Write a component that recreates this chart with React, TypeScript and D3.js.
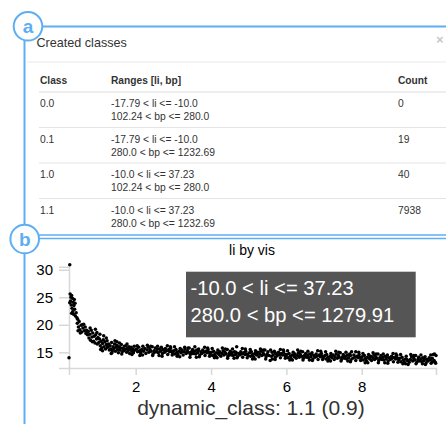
import React, {useEffect, useRef} from "react";
import * as d3 from "d3";

// table in panel a
const classIds = ["0.0", "0.1", "1.0", "1.1"];
const liRanges = ["-17.79 < li <= -10.0", "-17.79 < li <= -10.0", "-10.0 < li <= 37.23", "-10.0 < li <= 37.23"];
const bpRanges = ["102.24 < bp <= 280.0", "280.0 < bp <= 1232.69", "102.24 < bp <= 280.0", "280.0 < bp <= 1232.69"];
const counts = [0, 19, 40, 7938];

// scatter in panel b: [vis, li]
const outlierPoints: [number, number][] = [[0.25, 30.9], [0.23, 14.0]];

const headPoints: [number, number][] = [
	[0.26, 25.6], [0.28, 25.0], [0.27, 24.3], [0.3, 25.3], [0.32, 24.8], [0.29, 23.6], [0.31, 23.0], [0.34, 24.1],
	[0.33, 22.4], [0.36, 23.5], [0.35, 21.9], [0.38, 22.8], [0.4, 21.6], [0.37, 24.6], [0.42, 22.2], [0.44, 21.3],
	[0.25, 24.0], [0.3, 22.1], [0.39, 23.9], [0.46, 21.0],
	[0.45, 20.3], [0.48, 19.6], [0.5, 20.6], [0.52, 19.1], [0.55, 19.9], [0.57, 18.7], [0.6, 19.4], [0.62, 20.1],
	[0.64, 18.9], [0.66, 19.6], [0.68, 18.4], [0.7, 19.0], [0.72, 18.2], [0.53, 18.5], [0.58, 20.0], [0.47, 18.9],
	[0.74, 18.8], [0.76, 17.6], [0.78, 18.3], [0.8, 17.2], [0.82, 19.0], [0.84, 17.8], [0.86, 18.5], [0.88, 17.0],
	[0.9, 17.9], [0.92, 16.7], [0.94, 18.2], [0.96, 17.4], [0.98, 16.5], [1.0, 17.7], [0.85, 16.9], [0.93, 19.2],
	[0.79, 19.4], [0.97, 18.6],
	[1.02, 16.8], [1.04, 17.4], [1.06, 16.2], [1.08, 17.0], [1.1, 15.8], [1.12, 16.6], [1.14, 17.3], [1.16, 16.0],
	[1.18, 16.9], [1.2, 15.6], [1.22, 16.4], [1.24, 17.1], [1.26, 15.9], [1.28, 16.5], [1.3, 15.4], [1.15, 18.0],
	[1.25, 16.0], [1.07, 15.5],
	[1.32, 16.2], [1.34, 15.6], [1.36, 16.8], [1.38, 15.3], [1.4, 16.0], [1.42, 15.7], [1.44, 16.5], [1.46, 15.2],
	[1.48, 15.9], [1.5, 16.3], [1.52, 15.5], [1.54, 14.9], [1.56, 16.0], [1.58, 15.4], [1.6, 15.8], [1.62, 16.4],
	[1.64, 15.1], [1.66, 15.7], [1.68, 15.3], [1.7, 16.1], [1.45, 17.1], [1.37, 14.9], [1.57, 16.7],
	[1.72, 15.5], [1.74, 16.2], [1.76, 15.0], [1.78, 15.7], [1.8, 15.3], [1.82, 16.0], [1.84, 14.8], [1.86, 15.5],
	[1.88, 15.9], [1.9, 15.2], [1.92, 15.6], [1.94, 14.9], [1.96, 16.1], [1.98, 15.4], [1.85, 15.6], [1.95, 15.3],
	[1.22, 17.6], [1.35, 14.8], [1.5, 16.9], [1.63, 14.7], [1.77, 16.5], [1.9, 14.6], [1.05, 18.3], [1.12, 15.3],
];

const tailPoints: [number, number][] = [
	[2.02, 15.6], [2.05, 15.1], [2.08, 15.9], [2.1, 15.3], [2.13, 14.9], [2.16, 15.5], [2.19, 16.1], [2.21, 15.2],
	[2.24, 15.7], [2.27, 14.8], [2.3, 15.4], [2.33, 15.9], [2.35, 15.0], [2.38, 15.5], [2.41, 15.2], [2.44, 16.0],
	[2.46, 14.7], [2.49, 15.3], [2.52, 15.8], [2.55, 15.1], [2.57, 15.5], [2.6, 14.9], [2.63, 15.6], [2.66, 15.2],
	[2.68, 15.9], [2.71, 14.8], [2.74, 15.4], [2.77, 15.0], [2.79, 15.7], [2.82, 15.3], [2.85, 14.6], [2.88, 15.5],
	[2.9, 15.1], [2.93, 15.8], [2.96, 15.2], [2.98, 14.9], [2.15, 15.3], [2.5, 15.0], [2.72, 15.5], [2.91, 15.4],
	[3.01, 15.3], [3.04, 14.7], [3.07, 15.5], [3.09, 15.0], [3.12, 14.6], [3.15, 15.2], [3.18, 15.7], [3.2, 14.9],
	[3.23, 15.4], [3.26, 14.5], [3.29, 15.1], [3.31, 15.6], [3.34, 14.8], [3.37, 15.3], [3.4, 15.0], [3.42, 15.8],
	[3.45, 14.6], [3.48, 15.1], [3.51, 15.5], [3.53, 14.8], [3.56, 15.2], [3.59, 14.7], [3.62, 15.4], [3.64, 14.9],
	[3.67, 15.6], [3.7, 14.5], [3.73, 15.1], [3.75, 14.8], [3.78, 15.4], [3.81, 15.0], [3.84, 14.4], [3.86, 15.2],
	[3.89, 14.9], [3.92, 15.5], [3.95, 15.0], [3.97, 14.7], [3.22, 15.1], [3.5, 14.8], [3.66, 15.3], [3.88, 15.1],
	[4.01, 15.0], [4.04, 14.4], [4.07, 15.2], [4.1, 14.7], [4.12, 14.3], [4.15, 14.9], [4.18, 15.4], [4.21, 14.6],
	[4.23, 15.1], [4.26, 14.3], [4.29, 14.8], [4.32, 15.3], [4.34, 14.5], [4.37, 15.0], [4.4, 14.7], [4.43, 15.5],
	[4.45, 14.3], [4.48, 14.8], [4.51, 15.2], [4.54, 14.5], [4.56, 14.9], [4.59, 14.4], [4.62, 15.1], [4.65, 14.6],
	[4.68, 16.0], [4.7, 14.2], [4.73, 14.8], [4.76, 14.5], [4.79, 15.1], [4.81, 14.7], [4.84, 14.1], [4.87, 14.9],
	[4.9, 14.6], [4.92, 15.2], [4.95, 14.7], [4.98, 14.4], [4.2, 14.8], [4.5, 14.6], [4.66, 15.0], [4.88, 14.8],
	[5.02, 14.9], [5.05, 14.3], [5.07, 15.1], [5.1, 14.6], [5.13, 14.2], [5.16, 14.8], [5.18, 15.3], [5.21, 14.5],
	[5.24, 15.0], [5.27, 14.2], [5.29, 14.7], [5.32, 15.2], [5.35, 14.4], [5.38, 14.9], [5.4, 14.6], [5.43, 15.4],
	[5.46, 14.2], [5.49, 14.7], [5.51, 15.1], [5.54, 14.4], [5.57, 13.5], [5.6, 14.3], [5.62, 15.0], [5.65, 14.5],
	[5.68, 15.2], [5.71, 14.1], [5.73, 14.7], [5.76, 14.4], [5.79, 15.0], [5.82, 14.6], [5.84, 14.0], [5.87, 14.8],
	[5.9, 14.5], [5.93, 15.1], [5.96, 14.6], [5.98, 14.3], [5.2, 14.7], [5.48, 14.5], [5.7, 14.9], [5.88, 14.7],
	[6.01, 14.6], [6.04, 14.0], [6.07, 14.8], [6.1, 14.3], [6.12, 13.9], [6.15, 14.5], [6.18, 15.0], [6.21, 14.2],
	[6.23, 14.7], [6.26, 13.9], [6.29, 14.4], [6.32, 14.9], [6.34, 14.1], [6.37, 14.6], [6.4, 14.3], [6.43, 15.1],
	[6.45, 13.9], [6.48, 14.4], [6.51, 14.8], [6.54, 14.1], [6.56, 14.5], [6.59, 14.0], [6.62, 14.7], [6.65, 14.2],
	[6.68, 14.9], [6.7, 13.8], [6.73, 14.4], [6.76, 14.1], [6.79, 14.7], [6.81, 14.3], [6.84, 13.7], [6.87, 14.5],
	[6.9, 14.2], [6.93, 14.8], [6.95, 14.3], [6.98, 14.0], [6.2, 14.4], [6.5, 14.2], [6.66, 14.6], [6.88, 14.4],
	[7.02, 14.4], [7.05, 13.8], [7.07, 14.6], [7.1, 14.1], [7.13, 13.7], [7.16, 14.3], [7.18, 14.8], [7.21, 14.0],
	[7.24, 14.5], [7.27, 13.7], [7.29, 14.2], [7.32, 14.7], [7.35, 13.9], [7.38, 14.4], [7.4, 14.1], [7.43, 14.9],
	[7.46, 13.7], [7.49, 14.2], [7.51, 14.6], [7.54, 13.9], [7.57, 14.3], [7.6, 13.8], [7.62, 14.5], [7.65, 14.0],
	[7.68, 14.7], [7.71, 13.6], [7.73, 15.1], [7.76, 13.9], [7.79, 14.5], [7.82, 14.1], [7.84, 13.5], [7.87, 14.3],
	[7.9, 14.0], [7.93, 14.6], [7.96, 14.1], [7.98, 13.8], [7.2, 14.2], [7.48, 14.0], [7.7, 14.4], [7.88, 14.2],
	[8.01, 14.2], [8.04, 13.6], [8.07, 14.4], [8.1, 13.9], [8.12, 13.5], [8.15, 14.1], [8.18, 14.6], [8.21, 13.8],
	[8.24, 14.3], [8.26, 13.5], [8.29, 14.0], [8.32, 14.5], [8.34, 13.7], [8.37, 14.2], [8.4, 13.9], [8.43, 14.7],
	[8.45, 13.5], [8.48, 14.0], [8.51, 14.4], [8.54, 13.7], [8.56, 14.1], [8.59, 13.6], [8.62, 14.3], [8.65, 13.8],
	[8.68, 14.5], [8.7, 13.4], [8.73, 14.0], [8.76, 13.7], [8.79, 14.3], [8.81, 13.9], [8.84, 13.3], [8.87, 14.1],
	[8.9, 13.8], [8.93, 14.4], [8.95, 13.9], [8.98, 13.6], [8.2, 14.0], [8.5, 13.8], [8.66, 14.2], [8.88, 14.0],
	[9.01, 13.9], [9.04, 13.3], [9.07, 14.1], [9.1, 13.6], [9.13, 13.2], [9.16, 13.8], [9.18, 14.3], [9.21, 13.5],
	[9.23, 12.8], [9.26, 13.2], [9.29, 13.7], [9.32, 14.2], [9.35, 13.4], [9.38, 13.9], [9.4, 13.6], [9.43, 14.4],
	[9.46, 13.2], [9.49, 13.7], [9.51, 14.1], [9.54, 13.4], [9.57, 13.8], [9.6, 13.3], [9.62, 14.0], [9.65, 13.5],
	[9.68, 14.2], [9.71, 13.1], [9.73, 13.7], [9.76, 13.4], [9.79, 14.0], [9.82, 13.6], [9.84, 13.0], [9.87, 13.9],
	[9.9, 14.6], [9.92, 13.5], [9.95, 13.2], [9.97, 14.4], [9.2, 13.7], [9.5, 13.5], [9.66, 13.8], [9.88, 13.3],
];

// points on the upper and lower fringe of the band
const fringePoints: [number, number][] = [
	[2.04, 16.2], [2.18, 14.5], [2.31, 16.3], [2.45, 14.4], [2.58, 16.1], [2.7, 14.3], [2.84, 16.2], [2.97, 14.5],
	[2.11, 14.4], [2.4, 16.1], [2.62, 14.4], [2.92, 16.0],
	[3.03, 16.0], [3.17, 14.2], [3.3, 15.9], [3.44, 14.1], [3.57, 16.0], [3.69, 14.2], [3.83, 15.9], [3.96, 14.3],
	[3.1, 14.3], [3.39, 15.8], [3.61, 14.1], [3.91, 15.8],
	[4.03, 15.7], [4.16, 14.0], [4.3, 15.8], [4.44, 13.9], [4.57, 15.6], [4.69, 14.0], [4.83, 15.7], [4.96, 14.0],
	[4.09, 14.0], [4.38, 15.6], [4.61, 13.9], [4.91, 15.6],
	[5.04, 15.5], [5.17, 13.8], [5.31, 15.6], [5.45, 13.8], [5.58, 15.4], [5.7, 13.7], [5.84, 15.5], [5.97, 13.9],
	[5.1, 13.8], [5.39, 15.4], [5.63, 13.8], [5.92, 15.4],
	[6.03, 15.3], [6.16, 13.6], [6.3, 15.4], [6.44, 13.6], [6.57, 15.2], [6.69, 13.5], [6.83, 15.3], [6.96, 13.7],
	[6.09, 13.6], [6.38, 15.2], [6.61, 13.6], [6.91, 15.2],
	[7.04, 15.1], [7.17, 13.4], [7.31, 15.2], [7.45, 13.4], [7.58, 15.0], [7.7, 13.3], [7.84, 15.1], [7.97, 13.5],
	[7.1, 13.4], [7.39, 15.0], [7.63, 13.4], [7.92, 15.0],
	[8.03, 14.8], [8.16, 13.1], [8.3, 14.9], [8.44, 13.1], [8.57, 14.7], [8.69, 13.0], [8.83, 14.8], [8.96, 13.2],
	[8.09, 13.1], [8.38, 14.7], [8.61, 13.1], [8.91, 14.7],
	[9.03, 14.6], [9.16, 12.9], [9.3, 14.6], [9.44, 12.9], [9.57, 14.5], [9.69, 12.8], [9.83, 14.5], [9.96, 13.0],
	[9.09, 12.9], [9.38, 14.4], [9.61, 12.9], [9.93, 14.7],
];

const yTicks = [15, 20, 25, 30];
const xTicks = [2, 4, 6, 8];

const FONT = "'Liberation Sans', Arial, Helvetica, sans-serif";
const BLUE = "#5eaef4";

const App: React.FC = () => {
	const plotRef = useRef<SVGGElement>(null);

	useEffect(() => {
		const g = d3.select(plotRef.current);
		g.selectAll("*").remove();

		const x = d3.scaleLinear().domain([0.23, 9.97]).range([69, 436]);
		const y = d3.scaleLinear().domain([12.15, 30.55]).range([368, 266.7]);

		// y axis
		const yAxis = g
			.append("g")
			.attr("transform", "translate(69,0)")
			.call(d3.axisLeft(y).tickValues(yTicks).tickSize(10).tickPadding(6));
		// x axis
		const xAxis = g
			.append("g")
			.attr("transform", "translate(0,368)")
			.call(d3.axisBottom(x).tickValues(xTicks).tickSize(7).tickPadding(6));

		[yAxis, xAxis].forEach((ax) => {
			ax.attr("font-family", FONT).attr("font-size", 15);
			ax.select(".domain").attr("stroke", "#d8d8d8").attr("stroke-width", 1.5);
			ax.selectAll(".tick line").attr("stroke", "#d8d8d8").attr("stroke-width", 1.5);
			ax.selectAll(".tick text").attr("fill", "#000");
		});

		const allPoints = [...outlierPoints, ...headPoints, ...tailPoints, ...fringePoints];
		g.append("g")
			.selectAll("circle")
			.data(allPoints)
			.enter()
			.append("circle")
			.attr("cx", (d) => x(d[0]))
			.attr("cy", (d) => y(d[1]))
			.attr("r", 1.75)
			.attr("fill", "#000");
	}, []);

	const rowTop = 107;
	const rowStep = 35.5;

	return (
		<svg
			width={446}
			height={424}
			style={{position: "absolute", left: 0, top: 0, background: "#fff"}}
			fontFamily={FONT}
		>
			{/* panel frame lines */}
			<line x1={42} x2={446} y1={26.5} y2={26.5} stroke={BLUE} strokeWidth={2} />
			<line x1={24.5} x2={24.5} y1={39} y2={225} stroke={BLUE} strokeWidth={2} />
			<line x1={24.5} x2={24.5} y1={253} y2={424} stroke={BLUE} strokeWidth={2} />
			<line x1={39} x2={446} y1={235} y2={235} stroke={BLUE} strokeWidth={1.3} />
			<line x1={39} x2={446} y1={238.5} y2={238.5} stroke={BLUE} strokeWidth={1.3} />
			<circle cx={28} cy={26.3} r={14.3} fill="#fff" stroke={BLUE} strokeWidth={2} />
			<text x={28} y={32.5} textAnchor="middle" fontSize={19} fontWeight="bold" fill={BLUE}>a</text>
			<circle cx={24.7} cy={239} r={14.3} fill="#fff" stroke={BLUE} strokeWidth={2} />
			<text x={24.7} y={245.5} textAnchor="middle" fontSize={19} fontWeight="bold" fill={BLUE}>b</text>

			{/* panel a: created classes table */}
			<text x={36.5} y={46.5} fontSize={12.6} fill="#333">Created classes</text>
			<text x={436} y={44} fontSize={13} fontWeight="bold" fill="#c8c8c8">×</text>
			<line x1={27} x2={446} y1={62} y2={62} stroke="#e8e8e8" />
			<text x={40} y={84} fontSize={10.2} fontWeight="bold" fill="#333">Class</text>
			<text x={111} y={84} fontSize={10.2} fontWeight="bold" fill="#333">Ranges [li, bp]</text>
			<text x={398} y={84} fontSize={10.2} fontWeight="bold" fill="#333">Count</text>
			<line x1={39} x2={446} y1={92} y2={92} stroke="#ddd" />
			{classIds.map((c, i) => {
				const by = rowTop + i * rowStep;
				return (
					<g key={c}>
						<text x={40} y={by} fontSize={10.3} fill="#333">{c}</text>
						<text x={111} y={by} fontSize={10.3} fill="#333">{liRanges[i]}</text>
						<text x={111} y={by + 13.3} fontSize={10.3} fill="#333">{bpRanges[i]}</text>
						<text x={398} y={by} fontSize={10.3} fill="#333">{counts[i]}</text>
						{i < classIds.length - 1 && (
							<line x1={39} x2={446} y1={by + 20.5} y2={by + 20.5} stroke="#e4e4e4" />
						)}
					</g>
				);
			})}

			{/* panel b: scatter */}
			<text x={252} y={255} textAnchor="middle" fontSize={14} fill="#000">li by vis</text>
			<g ref={plotRef} />
			<rect x={186} y={271.7} width={229.7} height={65.6} fill="#555" />
			<text x={190.5} y={295} fontSize={20.2} fill="#fff">-10.0 &lt; li &lt;= 37.23</text>
			<text x={190.5} y={321.7} fontSize={20.2} fill="#fff">280.0 &lt; bp &lt;= 1279.91</text>
			<text x={251} y={415} textAnchor="middle" fontSize={21} fill="#333">dynamic_class: 1.1 (0.9)</text>
		</svg>
	);
};

export default App;
